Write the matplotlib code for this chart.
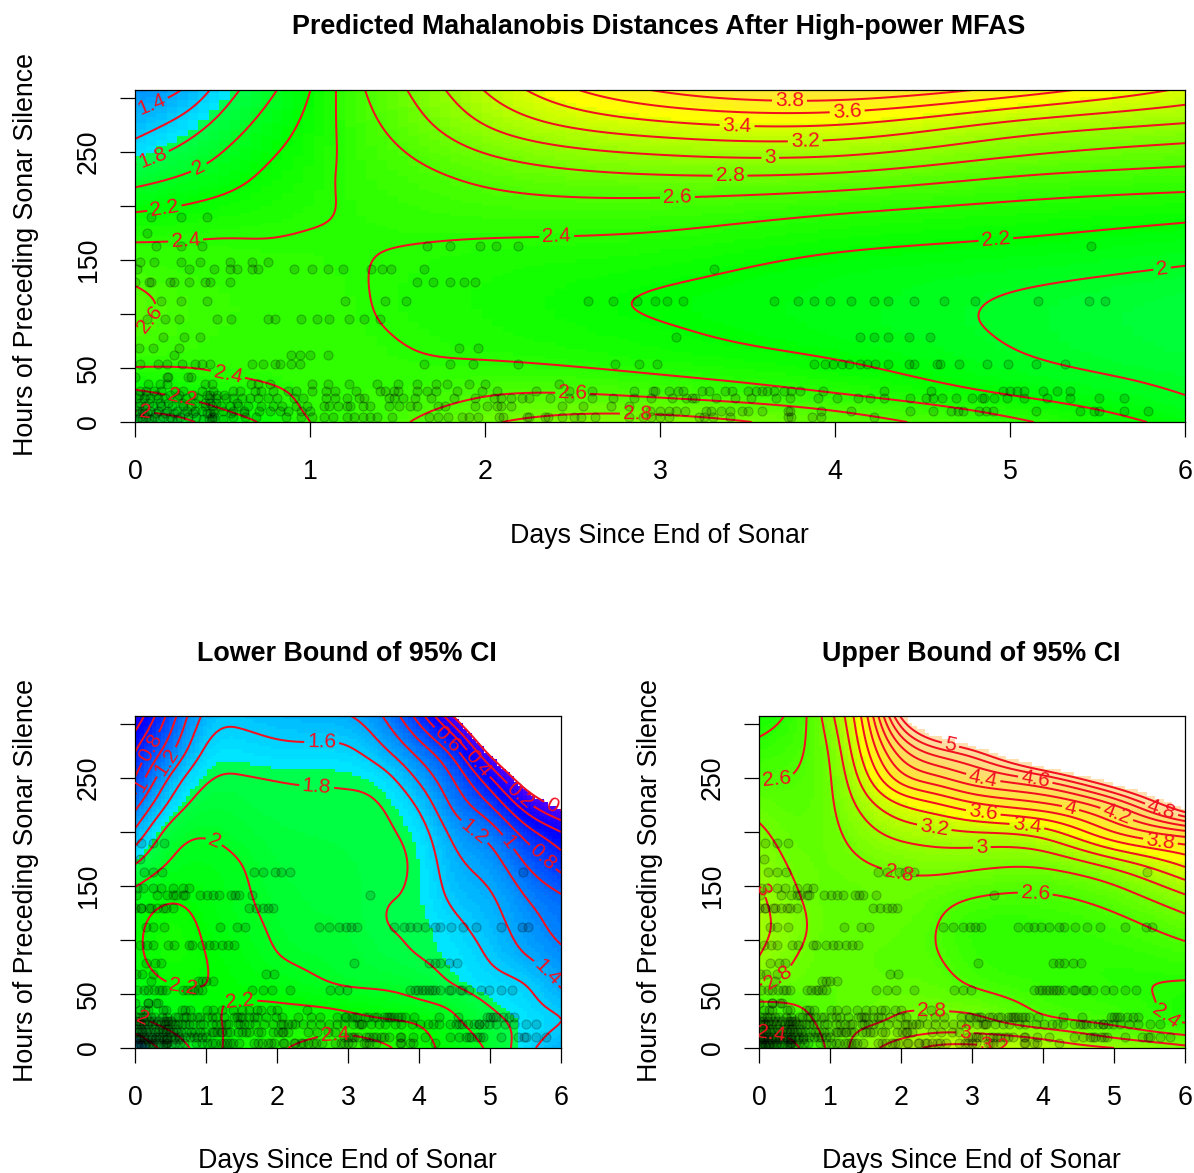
#!/usr/bin/env python3
"""Predicted Mahalanobis distance surfaces with 95% CI bounds (topo palette, red contours)."""

import colorsys
import numpy as np
import matplotlib
matplotlib.use("Agg")
import matplotlib.pyplot as plt
from matplotlib.colors import ListedColormap

plt.rcParams['font.family'] = ['Liberation Sans', 'DejaVu Sans']

W, H = 1194, 1173

# Surface values, one list per day column, bottom to top in hour_knots
hour_knots = [0, 12, 25, 40, 60, 85, 110, 140, 170, 200, 225, 250, 275, 306]

top_days = [0, 0.25, 0.5, 0.75, 1, 1.25, 1.5, 2, 3, 4, 5, 6]
top_cols = [
    [1.90, 2.02, 2.15, 2.30, 2.47, 2.60, 2.66, 2.52, 2.38, 2.15, 1.93, 1.70, 1.50, 1.25],
    [1.95, 2.08, 2.22, 2.33, 2.45, 2.52, 2.54, 2.47, 2.39, 2.20, 2.02, 1.84, 1.66, 1.40],
    [2.10, 2.20, 2.30, 2.38, 2.44, 2.47, 2.48, 2.45, 2.40, 2.26, 2.12, 2.00, 1.87, 1.70],
    [2.23, 2.30, 2.36, 2.41, 2.44, 2.46, 2.46, 2.44, 2.40, 2.32, 2.24, 2.16, 2.07, 1.95],
    [2.40, 2.42, 2.43, 2.44, 2.45, 2.45, 2.45, 2.43, 2.41, 2.37, 2.34, 2.30, 2.26, 2.20],
    [2.48, 2.47, 2.47, 2.46, 2.45, 2.43, 2.42, 2.41, 2.41, 2.42, 2.44, 2.46, 2.49, 2.53],
    [2.57, 2.53, 2.49, 2.45, 2.42, 2.39, 2.37, 2.38, 2.41, 2.46, 2.51, 2.58, 2.66, 2.75],
    [2.77, 2.68, 2.59, 2.49, 2.39, 2.33, 2.31, 2.33, 2.40, 2.52, 2.64, 2.81, 3.00, 3.20],
    [2.87, 2.74, 2.57, 2.43, 2.30, 2.22, 2.18, 2.25, 2.37, 2.54, 2.76, 3.03, 3.35, 3.80],
    [2.70, 2.58, 2.42, 2.30, 2.19, 2.10, 2.09, 2.13, 2.27, 2.46, 2.73, 3.05, 3.40, 3.95],
    [2.44, 2.33, 2.20, 2.10, 2.02, 1.985, 1.985, 2.06, 2.20, 2.37, 2.58, 2.85, 3.15, 3.70],
    [2.13, 2.06, 2.00, 1.96, 1.91, 1.87, 1.88, 1.98, 2.12, 2.30, 2.50, 2.72, 2.98, 3.35],
]

low_days = [0, 0.5, 1, 1.5, 2, 2.5, 3, 3.5, 4, 4.5, 5, 5.5, 6]
low_cols = [
    [1.65, 1.78, 1.95, 2.05, 2.10, 2.15, 2.15, 2.06, 1.80, 1.44, 1.13, 0.81, 0.59, 0.25],
    [1.88, 1.97, 2.07, 2.12, 2.20, 2.28, 2.28, 2.17, 2.02, 1.87, 1.65, 1.43, 1.15, 0.90],
    [2.10, 2.13, 2.16, 2.18, 2.20, 2.20, 2.17, 2.12, 2.06, 1.98, 1.88, 1.77, 1.63, 1.46],
    [2.29, 2.26, 2.24, 2.21, 2.16, 2.12, 2.07, 2.03, 2.00, 1.93, 1.87, 1.81, 1.70, 1.55],
    [2.37, 2.32, 2.27, 2.21, 2.11, 2.01, 1.97, 1.94, 1.91, 1.87, 1.83, 1.79, 1.66, 1.50],
    [2.46, 2.38, 2.30, 2.19, 2.04, 1.96, 1.92, 1.90, 1.88, 1.85, 1.82, 1.78, 1.65, 1.47],
    [2.46, 2.40, 2.27, 2.15, 1.98, 1.93, 1.90, 1.88, 1.86, 1.84, 1.82, 1.77, 1.63, 1.42],
    [2.43, 2.34, 2.22, 2.10, 1.96, 1.86, 1.81, 1.81, 1.83, 1.82, 1.79, 1.67, 1.44, 1.20],
    [2.27, 2.24, 2.17, 2.04, 1.91, 1.80, 1.78, 1.76, 1.75, 1.69, 1.56, 1.36, 1.12, 0.72],
    [2.13, 2.09, 2.03, 1.95, 1.79, 1.72, 1.66, 1.55, 1.46, 1.33, 1.15, 0.97, 0.67, 0.00],
    [1.96, 1.92, 1.87, 1.79, 1.68, 1.58, 1.50, 1.42, 1.30, 1.10, 0.80, 0.42, -0.10, -0.80],
    [1.68, 1.72, 1.72, 1.67, 1.59, 1.41, 1.31, 1.20, 1.00, 0.70, 0.28, -0.20, -0.70, -1.40],
    [1.42, 1.52, 1.60, 1.52, 1.37, 1.25, 1.14, 1.02, 0.72, 0.40, -0.10, -0.60, -1.10, -1.80],
]

up_days = [0, 0.5, 1, 1.5, 2, 2.5, 3, 4, 5, 6]
up_cols = [
    [2.25, 2.38, 2.48, 2.57, 2.82, 3.00, 3.06, 3.04, 2.95, 2.84, 2.72, 2.60, 2.47, 2.30],
    [2.37, 2.44, 2.52, 2.60, 2.72, 2.81, 2.87, 2.83, 2.77, 2.71, 2.66, 2.61, 2.56, 2.48],
    [2.64, 2.66, 2.67, 2.67, 2.68, 2.69, 2.70, 2.71, 2.73, 2.75, 2.77, 2.79, 2.83, 2.93],
    [2.92, 2.85, 2.76, 2.72, 2.69, 2.68, 2.69, 2.72, 2.79, 2.93, 3.10, 3.33, 3.53, 3.73],
    [3.10, 2.96, 2.84, 2.77, 2.69, 2.66, 2.68, 2.74, 2.84, 3.08, 3.40, 3.90, 4.32, 5.00],
    [3.25, 3.03, 2.88, 2.76, 2.67, 2.61, 2.60, 2.68, 2.87, 3.15, 3.57, 4.15, 4.72, 5.80],
    [3.27, 3.03, 2.86, 2.73, 2.58, 2.49, 2.47, 2.61, 2.85, 3.20, 3.74, 4.35, 4.97, 6.40],
    [3.12, 2.93, 2.67, 2.55, 2.47, 2.44, 2.45, 2.58, 2.84, 3.32, 3.95, 4.70, 5.90, 7.50],
    [3.00, 2.75, 2.55, 2.47, 2.42, 2.44, 2.52, 2.70, 3.08, 3.80, 4.40, 5.40, 6.60, 8.00],
    [2.85, 2.60, 2.38, 2.34, 2.39, 2.51, 2.68, 2.97, 3.44, 4.16, 5.30, 6.20, 7.20, 8.60],
]

# Observations, by row of hours: each entry is the days at that hour
row_hours = [190, 175, 163, 148, 142, 130, 112, 95, 79, 68.6, 62, 54, 42, 35, 29, 22, 15, 10, 5, 25, 18, 8, 3]
row_days = [
    [.09, .26, .41],
    [.07],
    [.12, .26, .38, 1.67, 1.8, 1.97, 2.06, 2.19, 5.46],
    [.03, .11, .26, .37, .54, .67, .76],
    [.01, .31, .45, .54, .58, .67, .7, .91, 1.01, 1.1, 1.19, 1.35, 1.41, 1.46, 1.65, 3.31],
    [0, .08, .09, .2, .22, .31, .4, .43, .54, 1.61, 1.7, 1.8, 1.88, 1.94],
    [.15, .26, .41, 1.2, 1.43, 1.55, 2.59, 2.73, 2.87, 2.97, 3.04, 3.13, 3.65, 3.79, 3.88, 3.97,
     4.09, 4.22, 4.3, 4.45, 4.62, 4.8, 5.16, 5.45, 5.54],
    [.07, .17, .25, .47, .55, .76, .8, .95, 1.04, 1.11, 1.22, 1.31, 1.4],
    [.16, .28, .37, 3.09, 4.14, 4.22, 4.3, 4.42, 4.54],
    [.02, .1, .25, 1.85, 1.96],
    [.22, .89, .94, 1.0, 1.1],
    [.03, .13, .18, .27, .34, .38, .43, .67, .73, .8, .83, .89, .94, 1.65, 1.8, 1.93, 2.19, 2.74,
     2.88, 2.985, 3.88, 3.94, 3.99, 4.04, 4.08, 4.14, 4.18, 4.23, 4.3, 4.42, 4.45, 4.58, 4.6, 4.71,
     4.87, 4.99, 5.15, 5.315],
    [0, .18, .19, .3, .32],
    [.075, .14, .18, .4, .44, .665, .7, .77, 1.01, 1.1, 1.22, 1.38, 1.5, 1.61, 1.72, 1.78, 1.91,
     2.0, 2.42],
    [.03, .065, .11, .15, .23, .275, .38, .445, .56, .6, .685, .72, .79, .875, .92, 1.01, 1.09, 1.14,
     1.26, 1.4, 1.43, 1.48, 1.5, 1.61, 1.67, 1.72, 1.84, 1.98, 2.07, 2.29, 2.48, 2.61, 2.85, 2.96,
     2.97, 3.05, 3.1, 3.13, 3.24, 3.28, 3.37, 3.41, 3.5, 3.55, 3.58, 3.61, 3.65, 3.71, 3.75, 3.8,
     3.93, 4.28, 4.55, 4.96, 5.0, 5.04, 5.08, 5.19, 5.27, 5.34],
    [.01, .05, .085, .13, .17, .24, .29, .36, .42, .46, .52, .56, .61, .655, .7, .76, .81, .91, .96,
     1.09, 1.14, 1.21, 1.28, 1.31, 1.45, 1.48, 1.53, 1.6, 1.69, 1.82, 1.94, 2.05, 2.09, 2.15, 2.21,
     2.25, 2.37, 2.48, 2.61, 2.73, 2.85, 2.95, 3.07, 3.15, 3.18, 3.2, 3.32, 3.43, 3.52, 3.66, 3.74,
     3.9, 4.01, 4.13, 4.2, 4.28, 4.43, 4.52, 4.56, 4.61, 4.69, 4.78, 4.84, 4.85, 4.91, 4.98, 5.08,
     5.21, 5.34, 5.51, 5.65],
    [.02, .055, .1, .15, .21, .275, .32, .4, .44, .49, .54, .59, .645, .72, .79, .84, .92, .98, 1.08,
     1.11, 1.16, 1.21, 1.23, 1.3, 1.34, 1.45, 1.51, 1.57, 1.61, 1.73, 1.77, 1.94, 2.01, 2.07, 2.09,
     2.15, 2.44, 2.56, 2.72, 2.82],
    [.01, .04, .085, .13, .18, .24, .295, .34, .38, .445, .5, .56, .625, .71, .77, .83, .875, .95,
     1.0, 2.94, 3.0, 3.05, 3.09, 3.14, 3.26, 3.29, 3.35, 3.4, 3.47, 3.5, 3.58, 3.73, 3.74, 3.92, 4.09,
     4.43, 4.56, 4.66, 4.7, 4.73, 4.82, 4.86, 4.9, 5.15, 5.4, 5.48, 5.51, 5.65, 5.79],
    [.03, .065, .11, .16, .2, .255, .3, .35, .44, .45, .56, .63, .69, .865, .95, 1.01, 1.08, 1.13,
     1.21, 1.25, 1.3, 1.34, 1.38, 1.47, 1.68, 1.73, 1.79, 1.87, 1.91, 1.96, 2.08, 2.1, 2.24, 2.25,
     2.34, 2.36, 2.44, 2.51, 2.55, 2.63, 2.82, 2.9, 2.95, 3.0, 3.05, 3.22, 3.25, 3.3, 3.4, 3.73,
     3.75, 3.87, 3.92, 4.22],
    [.02, .06, .12, .2, .25, .33, .41, .43, .47, .51],
    [.03, .08, .14, .19, .27, .34, .4, .43, .46, .58],
    [.02, .05, .07, .12, .17, .22, .28, .33, .41, .43, .45, .55, .62],
    [.01, .04, .08, .09, .14, .21, .24, .39, .42, .44, .5],
]

# Where the contour labels sit (days, hours)
top_labels = [(.09, 296), (.1, 245), (.37, 234), (.17, 196), (.29, 166), (.09, 94), (.53, 43.5),
              (.27, 22), (.06, 11), (2.41, 172), (3.1, 205.5), (3.4, 227), (3.63, 244), (3.83, 259),
              (3.44, 273), (4.07, 286), (3.74, 297), (4.92, 168), (5.87, 141), (2.5, 22), (2.87, 5.5)]
low_labels = [(.16, 280.6), (.12, 242), (.47, 263.6), (2.63, 283.6), (2.56, 243.5), (1.12, 192.6),
              (.68, 58), (1.48, 42), (2.82, 10.5), (4.36, 283), (4.81, 262), (5.45, 236), (5.87, 223.5),
              (4.81, 203), (5.26, 191), (5.77, 178.7), (5.77, 67.6), (.14, 33.7)]
up_labels = [(.25, 256), (2.69, 279), (3.16, 251), (3.89, 248), (5.67, 221), (4.38, 220), (5.04, 217),
             (5.65, 189.5), (3.16, 219), (3.77, 204), (2.46, 201), (3.14, 184), (1.96, 159), (3.89, 142.6),
             (.25, 67.6), (.08, 148), (2.43, 30.6), (2.9, 13.6), (3.32, 4.4), (5.74, 30.6), (.18, 18)]

Z_MIN, Z_MAX = 0.0, 5.15
LEVELS = np.round(np.arange(0, 5.01, 0.2), 1)
Y_TOP = 307.4
RED = '#f21020'


def topo_cmap(n=100):
    # R's topo.colors
    j = n // 3
    k = n // 3
    i = n - j - k
    cols = [colorsys.hsv_to_rgb(h, 1, 1) for h in np.linspace(43 / 60, 31 / 60, i)]
    cols += [colorsys.hsv_to_rgb(h, 1, 1) for h in np.linspace(23 / 60, 11 / 60, j)]
    cols += [colorsys.hsv_to_rgb(h, s, 1) for h, s in zip(np.linspace(10 / 60, 6 / 60, k), np.linspace(1, 0.3, k))]
    cm = ListedColormap(cols)
    cm.set_bad('white')
    return cm


def smooth_along(xk, yk, xnew):
    # natural cubic spline through the read values, only to draw a smooth surface
    xk = np.asarray(xk, float)
    yk = np.asarray(yk, float)
    h = np.diff(xk)
    n = len(xk)
    A = np.zeros((n, n))
    b = np.zeros(n)
    A[0, 0] = A[-1, -1] = 1
    for i in range(1, n - 1):
        A[i, i - 1:i + 2] = h[i - 1], 2 * (h[i - 1] + h[i]), h[i]
        b[i] = 6 * ((yk[i + 1] - yk[i]) / h[i] - (yk[i] - yk[i - 1]) / h[i - 1])
    m = np.linalg.solve(A, b)
    idx = np.clip(np.searchsorted(xk, xnew) - 1, 0, n - 2)
    t0 = xk[idx + 1] - xnew
    t1 = xnew - xk[idx]
    hh = h[idx]
    return (m[idx] * t0**3 + m[idx + 1] * t1**3) / (6 * hh) + \
           (yk[idx] / hh - m[idx] * hh / 6) * t0 + (yk[idx + 1] / hh - m[idx + 1] * hh / 6) * t1


def surface(days, cols, xs, ys):
    z = np.array(cols, float)  # days x hours
    by_hour = np.array([smooth_along(hour_knots, c, ys) for c in z])
    return np.array([smooth_along(days, by_hour[:, j], xs) for j in range(len(ys))])


def panel_axes(fig, left, right, top, bottom):
    return fig.add_axes([left / W, 1 - bottom / H, (right - left) / W, (bottom - top) / H])


def draw_panel(ax, days, cols, labels):
    cm = topo_cmap()
    xs_cell = np.linspace(0, 6, 101)
    ys_cell = np.linspace(0, Y_TOP, 101)
    zc = surface(days, cols, (xs_cell[:-1] + xs_cell[1:]) / 2, (ys_cell[:-1] + ys_cell[1:]) / 2)
    ax.pcolormesh(xs_cell, ys_cell, np.ma.masked_outside(zc, Z_MIN, Z_MAX), cmap=cm,
                  vmin=Z_MIN, vmax=Z_MAX, shading='flat', antialiased=False, rasterized=True)

    xs = np.linspace(0, 6, 301)
    ys = np.linspace(0, Y_TOP, 301)
    zf = surface(days, cols, xs, ys)
    cs = ax.contour(xs, ys, zf, levels=LEVELS, colors=RED, linewidths=1.45)
    txts = ax.clabel(cs, fmt='%g', fontsize=15, colors=RED, inline=True, inline_spacing=3,
                     manual=labels)
    for t in txts:
        t.set_fontfamily(['Liberation Sans', 'DejaVu Sans'])

    pts_x = np.concatenate(row_days)
    pts_y = np.concatenate([[hr] * len(d) for hr, d in zip(row_hours, row_days)])
    ax.scatter(pts_x, pts_y, s=42, facecolor=(0, 0, 0, 0.15), edgecolor=(0, 0, 0, 0.25),
               linewidth=0.8, zorder=3)

    ax.set_xlim(0, 6)
    ax.set_ylim(0, Y_TOP)
    ax.set_xticks(range(7))
    ax.set_yticks([0, 50, 100, 150, 200, 250, 300])
    ax.set_yticklabels(['0', '50', '', '150', '', '250', ''], rotation=90, va='center')
    ax.tick_params(axis='x', length=10.5, width=0.9, labelsize=19.3, pad=16)
    ax.tick_params(axis='y', length=10.5, width=0.9, labelsize=19.3, pad=13.5)
    for s in ax.spines.values():
        s.set_linewidth(0.9)


def text_at(fig, px, py, s, **kw):
    fig.text(px / W, 1 - py / H, s, ha='center', va='center', **kw)


fig = plt.figure(figsize=(W / 100, H / 100), dpi=100)

ax_top = panel_axes(fig, 135, 1185, 90, 422)
draw_panel(ax_top, top_days, top_cols, top_labels)
ax_low = panel_axes(fig, 135, 561, 716, 1048)
draw_panel(ax_low, low_days, low_cols, low_labels)
ax_up = panel_axes(fig, 759, 1185, 716, 1048)
draw_panel(ax_up, up_days, up_cols, up_labels)

text_at(fig, 659, 27, 'Predicted Mahalanobis Distances After High-power MFAS', fontsize=19.4, fontweight='bold')
text_at(fig, 347, 654, 'Lower Bound of 95% CI', fontsize=19.4, fontweight='bold')
text_at(fig, 971, 654, 'Upper Bound of 95% CI', fontsize=19.4, fontweight='bold')

text_at(fig, 659, 536, 'Days Since End of Sonar', fontsize=19.3)
text_at(fig, 347, 1161, 'Days Since End of Sonar', fontsize=19.3)
text_at(fig, 971, 1161, 'Days Since End of Sonar', fontsize=19.3)

text_at(fig, 26, 255, 'Hours of Preceding Sonar Silence', fontsize=19.3, rotation=90)
text_at(fig, 26, 881, 'Hours of Preceding Sonar Silence', fontsize=19.3, rotation=90)
text_at(fig, 650, 881, 'Hours of Preceding Sonar Silence', fontsize=19.3, rotation=90)

fig.savefig('out.png', dpi=100)
